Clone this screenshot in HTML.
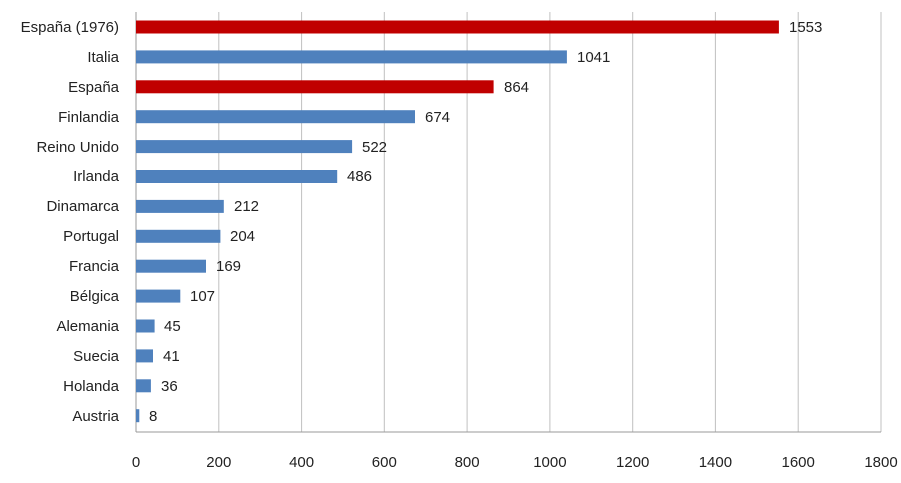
<!DOCTYPE html>
<html><head><meta charset="utf-8"><style>
body{margin:0;background:#fff;}
svg text{font-family:"Liberation Sans",sans-serif;font-size:15px;fill:#222;}
</style></head><body>
<svg width="901" height="478" viewBox="0 0 901 478" xmlns="http://www.w3.org/2000/svg">
<g stroke="#c0c0c0" stroke-width="1">
<line x1="218.8" y1="12" x2="218.8" y2="432"/>
<line x1="301.6" y1="12" x2="301.6" y2="432"/>
<line x1="384.3" y1="12" x2="384.3" y2="432"/>
<line x1="467.1" y1="12" x2="467.1" y2="432"/>
<line x1="549.9" y1="12" x2="549.9" y2="432"/>
<line x1="632.7" y1="12" x2="632.7" y2="432"/>
<line x1="715.4" y1="12" x2="715.4" y2="432"/>
<line x1="798.2" y1="12" x2="798.2" y2="432"/>
<line x1="881" y1="12" x2="881" y2="432"/>
</g>
<line x1="136" y1="12" x2="136" y2="432" stroke="#999"/>
<line x1="136" y1="432" x2="881" y2="432" stroke="#999"/>
<g text-anchor="middle">
<text x="136" y="467">0</text><text x="218.8" y="467">200</text><text x="301.6" y="467">400</text><text x="384.3" y="467">600</text><text x="467.1" y="467">800</text><text x="549.9" y="467">1000</text><text x="632.7" y="467">1200</text><text x="715.4" y="467">1400</text><text x="798.2" y="467">1600</text><text x="881" y="467">1800</text>
</g>
<g>
<rect x="136" y="20.5" width="642.9" height="13" fill="#c00000"/>
<rect x="136" y="50.4" width="430.9" height="13" fill="#4f81bd"/>
<rect x="136" y="80.3" width="357.6" height="13" fill="#c00000"/>
<rect x="136" y="110.2" width="279.0" height="13" fill="#4f81bd"/>
<rect x="136" y="140.1" width="216.1" height="13" fill="#4f81bd"/>
<rect x="136" y="170.0" width="201.2" height="13" fill="#4f81bd"/>
<rect x="136" y="199.9" width="87.8" height="13" fill="#4f81bd"/>
<rect x="136" y="229.8" width="84.4" height="13" fill="#4f81bd"/>
<rect x="136" y="259.7" width="70.0" height="13" fill="#4f81bd"/>
<rect x="136" y="289.6" width="44.3" height="13" fill="#4f81bd"/>
<rect x="136" y="319.5" width="18.6" height="13" fill="#4f81bd"/>
<rect x="136" y="349.4" width="17.0" height="13" fill="#4f81bd"/>
<rect x="136" y="379.3" width="14.9" height="13" fill="#4f81bd"/>
<rect x="136" y="409.2" width="3.3" height="13" fill="#4f81bd"/>
</g>
<g text-anchor="end">
<text x="119" y="32">España (1976)</text>
<text x="119" y="62">Italia</text>
<text x="119" y="92">España</text>
<text x="119" y="122">Finlandia</text>
<text x="119" y="152">Reino Unido</text>
<text x="119" y="181">Irlanda</text>
<text x="119" y="211">Dinamarca</text>
<text x="119" y="241">Portugal</text>
<text x="119" y="271">Francia</text>
<text x="119" y="301">Bélgica</text>
<text x="119" y="331">Alemania</text>
<text x="119" y="361">Suecia</text>
<text x="119" y="391">Holanda</text>
<text x="119" y="421">Austria</text>
</g>
<g>
<text x="789" y="32">1553</text>
<text x="577" y="62">1041</text>
<text x="504" y="92">864</text>
<text x="425" y="122">674</text>
<text x="362" y="152">522</text>
<text x="347" y="181">486</text>
<text x="234" y="211">212</text>
<text x="230" y="241">204</text>
<text x="216" y="271">169</text>
<text x="190" y="301">107</text>
<text x="164" y="331">45</text>
<text x="163" y="361">41</text>
<text x="161" y="391">36</text>
<text x="149" y="421">8</text>
</g>
</svg>
</body></html>
